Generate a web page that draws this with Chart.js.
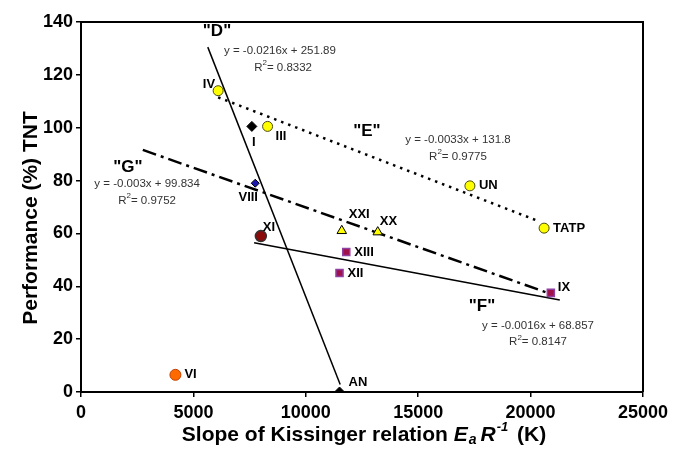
<!DOCTYPE html>
<html><head><meta charset="utf-8">
<script src="https://cdn.jsdelivr.net/npm/chart.js@4/dist/chart.umd.min.js"></script>
<style>html,body{margin:0;padding:0;background:#fff}</style>
</head><body>
<canvas id="c" width="676" height="454"></canvas>
<script>
// ---- data ----
const compoundNames = ['IV','III','I','VIII','XI','XXI','XX','XIII','XII','VI','AN','UN','TATP','IX'];
const slopeK        = [6100, 8300, 7600, 7750, 8000, 11600, 13200, 11800, 11500, 4200, 11500, 17300, 20600, 20900];
const performanceTNT= [114, 100.5, 100.5, 79, 59, 61, 60.5, 53, 45, 6.5, 0, 78, 62, 37.5];

const xTickValues = [0, 5000, 10000, 15000, 20000, 25000];
const yTickValues = [0, 20, 40, 60, 80, 100, 120, 140];

const trendNames     = ['"D"', '"E"', '"F"', '"G"'];
const trendEquations = ['y = -0.0216x + 251.89', 'y = -0.0033x + 131.8', 'y = -0.0016x + 68.857', 'y = -0.003x + 99.834'];
const trendR2        = ['0.8332', '0.9775', '0.8147', '0.9752'];
const trendStartX    = [5640, 6100, 7700, 2750];
const trendStartY    = [130.5, 111.5, 56.5, 91.6];
const trendEndX      = [11530, 20400, 21300, 20800];
const trendEndY      = [2.8, 64.5, 34.8, 37.4];

// ---- styles / layout (not data) ----
const FONT = '"Liberation Sans", Arial, Helvetica, sans-serif';
const markerStyle = {
  yellowCircle: {pointStyle:'circle',   r:5,   bg:'#FFFF00', bd:'#4a4a10', bw:1},
  blackDiamond: {pointStyle:'rectRot',  r:5,   bg:'#000000', bd:'#000000', bw:1},
  blueDiamond:  {pointStyle:'rectRot',  r:4,   bg:'#1a1ab0', bd:'#000000', bw:1},
  redCircle:    {pointStyle:'circle',   r:5.5, bg:'#8B0A0A', bd:'#333333', bw:1.5},
  yellowTri:    {pointStyle:'triangle', r:5.5, bg:'#FFFF00', bd:'#000000', bw:1},
  purpleSquare: {pointStyle:'rect',     r:5,   bg:'#A0104A', bd:'#9040A0', bw:1.5},
  orangeCircle: {pointStyle:'circle',   r:5.5, bg:'#FF6A00', bd:'#C04000', bw:1}
};
const markerOf = {IV:'yellowCircle', III:'yellowCircle', UN:'yellowCircle', TATP:'yellowCircle',
  I:'blackDiamond', AN:'blackDiamond', VIII:'blueDiamond', XI:'redCircle',
  XXI:'yellowTri', XX:'yellowTri', XIII:'purpleSquare', XII:'purpleSquare', IX:'purpleSquare', VI:'orangeCircle'};
const labelOffset = {IV:[-3,-6,'right'], III:[8,10,'left'], I:[2,16,'center'], VIII:[-7,14,'center'],
  XI:[2,-9,'left'], XXI:[7,-16,'left'], XX:[2,-11,'left'], XIII:[8,0,'left'], XII:[8,0,'left'],
  VI:[9,0,'left'], AN:[9,-10,'left'], UN:[9,0,'left'], TATP:[9,0,'left'], IX:[7,-5,'left']};
const trendDash = [[], [2.5, 5], [], [14, 5, 3, 5]];
const trendWidth = [1.5, 2.5, 1.5, 2.5];
// annotation anchors in data units: [nameX,nameY, eqX,eqY, r2X,r2Y]
const trendTextAnchor = [
  [6050,136.4, 8850,129.2, 8990,122.8],
  [12720,98.6, 16770,95.6, 16770,89.1],
  [17840,32.4, 20330,25.2, 20330,18.8],
  [2090,85,    2940,78.9,  2940,72.5]
];

const pointData = slopeK.map((x, i) => ({x, y: performanceTNT[i]}));
const st = k => compoundNames.map(n => markerStyle[markerOf[n]][k]);

const datasets = [{
  label: 'compounds', data: pointData, order: 0,
  pointStyle: st('pointStyle'), pointRadius: st('r'),
  backgroundColor: st('bg'), borderColor: st('bd'), borderWidth: st('bw'),
  pointBackgroundColor: st('bg'), pointBorderColor: st('bd'), pointBorderWidth: st('bw'),
  showLine: false
}];
trendNames.forEach((n, i) => datasets.push({
  label: n, order: 1, showLine: true, pointRadius: 0,
  data: [{x: trendStartX[i], y: trendStartY[i]}, {x: trendEndX[i], y: trendEndY[i]}],
  borderColor: '#000', borderWidth: trendWidth[i], borderDash: trendDash[i], borderCapStyle: 'butt'
}));

function drawRuns(ctx, runs, x, y, align) {
  let w = 0;
  runs.forEach(r => { ctx.font = r.font; w += ctx.measureText(r.text).width + (r.gap || 0); });
  let cx = align === 'center' ? x - w / 2 : (align === 'right' ? x - w : x);
  runs.forEach(r => {
    ctx.font = r.font;
    ctx.textAlign = 'left';
    ctx.fillText(r.text, cx, y + (r.dy || 0));
    cx += ctx.measureText(r.text).width + (r.gap || 0);
  });
}

const annotate = {
  id: 'annotate',
  afterDraw(chart) {
    const {ctx, chartArea: a, scales: {x, y}} = chart;
    ctx.save();
    ctx.strokeStyle = '#000'; ctx.lineWidth = 2;
    ctx.beginPath();
    ctx.moveTo(a.left, a.top); ctx.lineTo(a.right, a.top); ctx.lineTo(a.right, a.bottom);
    ctx.stroke();
    ctx.textBaseline = 'middle';
    trendNames.forEach((n, i) => {
      const t = trendTextAnchor[i];
      ctx.fillStyle = '#000';
      ctx.font = 'bold 17px ' + FONT; ctx.textAlign = 'center';
      ctx.fillText(n, x.getPixelForValue(t[0]), y.getPixelForValue(t[1]));
      ctx.fillStyle = '#333';
      ctx.font = '11.5px ' + FONT;
      ctx.fillText(trendEquations[i], x.getPixelForValue(t[2]), y.getPixelForValue(t[3]));
      drawRuns(ctx, [
        {text: 'R', font: '11.5px ' + FONT},
        {text: '2', font: '8px ' + FONT, dy: -5},
        {text: '= ' + trendR2[i], font: '11.5px ' + FONT}
      ], x.getPixelForValue(t[4]), y.getPixelForValue(t[5]), 'center');
    });
    ctx.fillStyle = '#000';
    ctx.font = 'bold 13px ' + FONT;
    const meta = chart.getDatasetMeta(0);
    compoundNames.forEach((n, i) => {
      const el = meta.data[i], o = labelOffset[n];
      ctx.textAlign = o[2];
      ctx.fillText(n, el.x + o[0], el.y + o[1]);
    });
    ctx.textBaseline = 'alphabetic';
    const B = 'bold 21px ' + FONT, BI = 'italic bold 21px ' + FONT;
    drawRuns(ctx, [
      {text: 'Slope of Kissinger relation ', font: B},
      {text: 'E', font: BI, gap: 1},
      {text: 'a', font: 'italic bold 14px ' + FONT, dy: 3, gap: 4},
      {text: 'R', font: BI, gap: 1},
      {text: '-1', font: 'italic bold 13px ' + FONT, dy: -10, gap: 3},
      {text: ' (K)', font: B}
    ], 364, 441, 'center');
    ctx.translate(37, 218);
    ctx.rotate(-Math.PI / 2);
    ctx.font = B; ctx.textAlign = 'center';
    ctx.fillText('Performance (%) TNT', 0, 0);
    ctx.restore();
  }
};

new Chart(document.getElementById('c'), {
  type: 'scatter',
  data: {datasets},
  options: {
    responsive: false, animation: false, devicePixelRatio: 1,
    layout: {padding: {top: 22, right: 33, left: 0, bottom: 0}},
    plugins: {legend: {display: false}, tooltip: {enabled: false}},
    scales: {
      x: {
        type: 'linear', min: 0, max: 25000,
        afterFit: s => { s.height = 62; },
        afterBuildTicks: s => { s.ticks = xTickValues.map(v => ({value: v})); },
        ticks: {callback: v => String(v), color: '#000', font: {family: FONT, size: 18, weight: 'bold'}, padding: 5, maxRotation: 0},
        grid: {drawOnChartArea: false, drawTicks: true, tickLength: 5, color: '#000', lineWidth: 1.5},
        border: {display: true, color: '#000', width: 2}
      },
      y: {
        type: 'linear', min: 0, max: 140,
        afterFit: s => { s.width = 81; },
        afterBuildTicks: s => { s.ticks = yTickValues.map(v => ({value: v})); },
        ticks: {callback: v => String(v), color: '#000', font: {family: FONT, size: 18, weight: 'bold'}, padding: 3},
        grid: {drawOnChartArea: false, drawTicks: true, tickLength: 5, color: '#000', lineWidth: 1.5},
        border: {display: true, color: '#000', width: 2}
      }
    }
  },
  plugins: [annotate]
});
</script>
</body></html>
